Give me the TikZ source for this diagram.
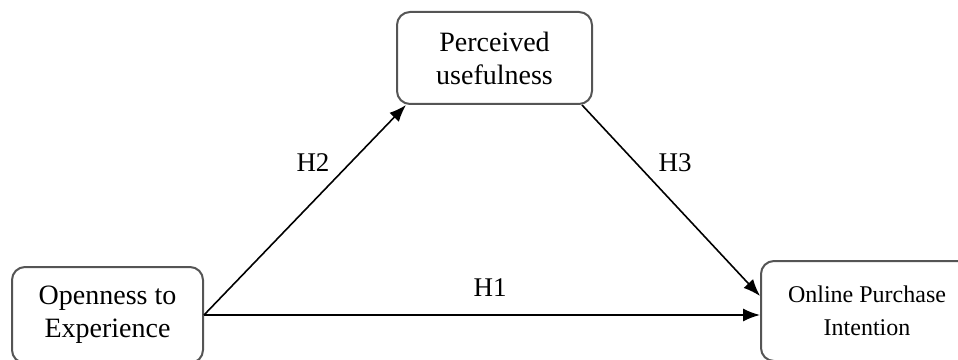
\documentclass[tikz,border=0pt]{standalone}
\usepackage{fontspec}
\setmainfont{Liberation Serif}
\usetikzlibrary{arrows.meta, positioning, calc}
\definecolor{boxline}{HTML}{555555}
\tikzset{
  construct/.style={rectangle, rounded corners=6.5pt, draw=boxline, line width=1pt, fill=white,
    align=center, font=\fontsize{14}{16.5}\selectfont, inner sep=0pt},
  path/.style={-{Latex[length=8.5pt, width=6.5pt]}, line width=0.8pt, black},
  hyp/.style={font=\fontsize{13.5}{15}\selectfont, inner sep=0pt},
}
\begin{document}
\begin{tikzpicture}[x=0.5pt, y=0.5pt]
\useasboundingbox (0,0) rectangle (958,359);
\node[construct, minimum width=95.5pt, minimum height=48pt] (op) at (107.5,44) {Openness to\\Experience};
\node[construct, minimum width=97.5pt, minimum height=46pt] (pu) at (494.5,301) {Perceived\\usefulness};
\node[construct, minimum width=106pt, minimum height=50pt,
  font=\fontsize{12}{16.5}\selectfont] (oi) at (867,48) {Online Purchase\\Intention};
\draw[path] (op.east) -- ([xshift=5pt]pu.south west);
\draw[path] ([xshift=-5.5pt]pu.south east) -- ([yshift=7.5pt]oi.west);
\draw[path] (op.east) -- (op.east -| oi.west);
\node[hyp] (h2) at (313,196) {H2};
\node[hyp] (h3) at (675,196) {H3};
\node[hyp] (h1) at (490,71) {H1};
\end{tikzpicture}
\end{document}
